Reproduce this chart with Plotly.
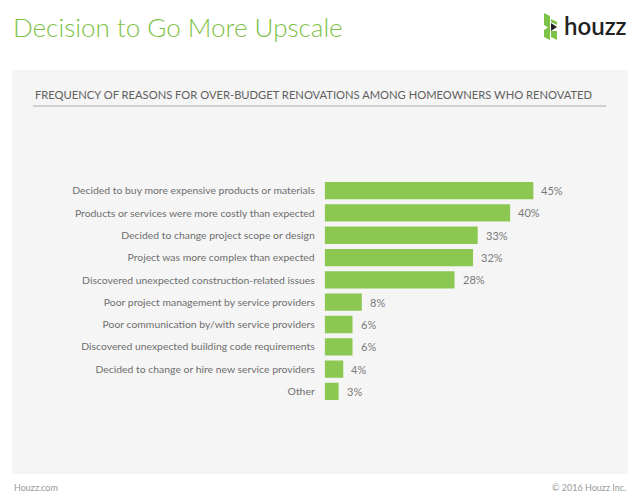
import plotly.graph_objects as go

categories = [
    "Decided to buy more expensive products or materials",
    "Products or services were more costly than expected",
    "Decided to change project scope or design",
    "Project was more complex than expected",
    "Discovered unexpected construction-related issues",
    "Poor project management by service providers",
    "Poor communication by/with service providers",
    "Discovered unexpected building code requirements",
    "Decided to change or hire new service providers",
    "Other",
]
values = [45, 40, 33, 32, 28, 8, 6, 6, 4, 3]

W, H = 640, 502
FONT = "Lato"
GREEN = "#8bc751"

def px(x):
    return x / W

def py(y):
    return 1 - y / H

x0, x1 = 324.7, 324.7 + 4.636 * 60
ytop, ybot = 179.5, 402.6

fig = go.Figure()
fig.add_trace(go.Bar(
    x=values, y=categories, orientation="h",
    marker=dict(color=GREEN, line=dict(width=0)),
    hoverinfo="skip",
))

annotations = []
for c, v in zip(categories, values):
    annotations.append(dict(
        x=v, y=c, xref="x", yref="y", text=f"{v}%", showarrow=False,
        xanchor="left", xshift=6, font=dict(family=FONT, size=11, color="#7a7a7a"),
    ))

annotations += [
    dict(x=px(11), y=py(27), xref="paper", yref="paper", text="Decision to Go More Upscale",
         showarrow=False, xanchor="left", yanchor="middle",
         font=dict(family=FONT, size=26, color="#7cc246", weight=300)),
    dict(x=px(629), y=py(26), xref="paper", yref="paper", text="houzz",
         showarrow=False, xanchor="right", yanchor="middle",
         font=dict(family=FONT, size=24, color="#222", weight=600)),
    dict(x=px(33), y=py(94), xref="paper", yref="paper",
         text="FREQUENCY OF REASONS FOR OVER-BUDGET RENOVATIONS AMONG HOMEOWNERS WHO RENOVATED",
         showarrow=False, xanchor="left", yanchor="middle",
         font=dict(family=FONT, size=11.2, color="#606060")),
    dict(x=px(12), y=py(487), xref="paper", yref="paper", text="Houzz.com",
         showarrow=False, xanchor="left", yanchor="middle",
         font=dict(family=FONT, size=9, color="#999")),
    dict(x=px(628), y=py(487), xref="paper", yref="paper", text="© 2016 Houzz Inc.",
         showarrow=False, xanchor="right", yanchor="middle",
         font=dict(family=FONT, size=9, color="#999")),
]

def path(points):
    return "M " + " L ".join(f"{px(a)},{py(b)}" for a, b in points) + " Z"

shapes = [
    dict(type="rect", xref="paper", yref="paper", x0=px(12), x1=px(628), y0=py(474), y1=py(70),
         fillcolor="#f5f5f5", line=dict(width=0), layer="below"),
    dict(type="line", xref="paper", yref="paper", x0=px(33), x1=px(606), y0=py(106), y1=py(106),
         line=dict(color="#aaaaaa", width=1)),
    # logo icon
    dict(type="path", xref="paper", yref="paper",
         path=path([(544, 13), (550, 16), (550, 40), (544, 37), (544, 30), (548, 27.5), (544, 25)]),
         fillcolor="#7cc246", line=dict(width=0)),
    dict(type="path", xref="paper", yref="paper",
         path=path([(551, 19), (557, 22), (557, 25), (551, 22)]),
         fillcolor="#7cc246", line=dict(width=0)),
    dict(type="path", xref="paper", yref="paper",
         path=path([(551, 31), (557, 31), (557, 40), (551, 37)]),
         fillcolor="#7cc246", line=dict(width=0)),
    dict(type="path", xref="paper", yref="paper",
         path=path([(551, 23), (557, 27), (551, 31)]),
         fillcolor="#222", line=dict(width=0)),
]

fig.update_layout(
    width=W, height=H,
    margin=dict(l=0, r=0, t=0, b=0),
    paper_bgcolor="white", plot_bgcolor="rgba(0,0,0,0)",
    bargap=0.224, showlegend=False,
    annotations=annotations, shapes=shapes,
    xaxis=dict(domain=[px(x0), px(x1)], range=[0, 60], visible=False, fixedrange=True),
    yaxis=dict(domain=[py(ybot), py(ytop)], autorange="reversed", showgrid=False,
               zeroline=False, showline=False, ticks="", ticklabelstandoff=9,
               tickfont=dict(family=FONT, size=10.4, color="#6e6e6e"), fixedrange=True),
)

fig.write_html("out.html", config={"displayModeBar": False},
               post_script="document.body.style.margin='0';")
